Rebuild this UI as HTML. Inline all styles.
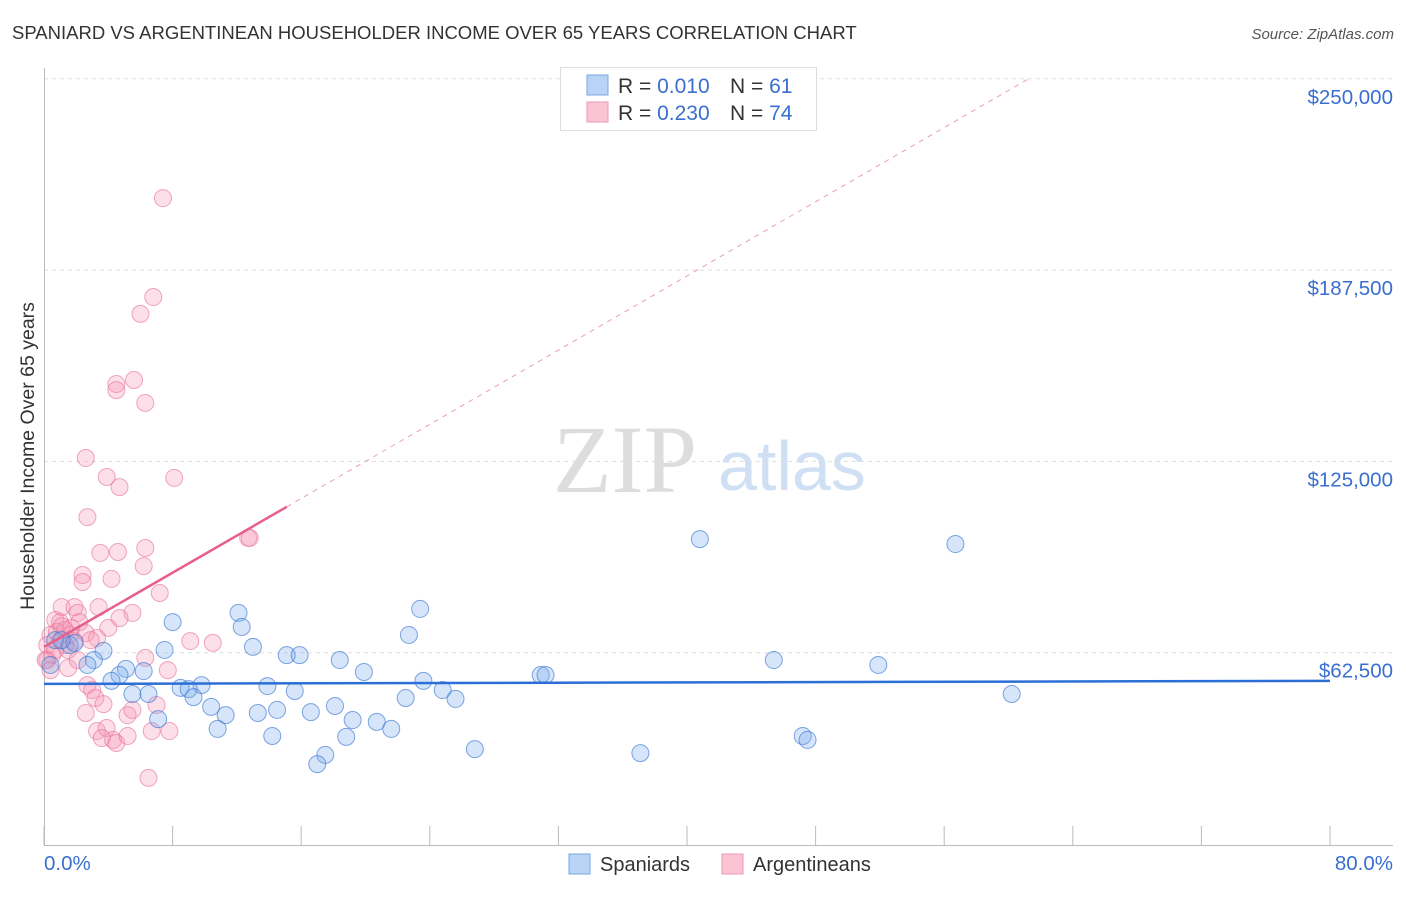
<!DOCTYPE html>
<html><head><meta charset="utf-8"><style>
body{margin:0;background:#fff;font-family:"Liberation Sans",sans-serif;}
svg text{font-family:"Liberation Sans",sans-serif;}
</style></head><body>
<svg width="1406" height="892" xmlns="http://www.w3.org/2000/svg">
<text x="12" y="39" font-size="18.5" fill="#333">SPANIARD VS ARGENTINEAN HOUSEHOLDER INCOME OVER 65 YEARS CORRELATION CHART</text>
<text x="1394" y="39" font-size="15" fill="#555" font-style="italic" text-anchor="end">Source: ZipAtlas.com</text>
<g>
<text x="553" y="492" font-size="96" fill="#ddd" font-family="Liberation Serif, serif" style="font-family:'Liberation Serif',serif">ZIP</text>
<text x="718" y="490" font-size="70" fill="#cfe0f5">atlas</text>
</g>
<g id="grid"></g>
<g id="axes"></g>
<g id="marks"></g>
<g>
<rect x="560.5" y="67.5" width="256" height="63" fill="#fff" stroke="#ddd"/>
<rect x="587" y="75" width="21" height="20" fill="#b8d3f5" stroke="#7aa6e0"/>
<rect x="587" y="102" width="21" height="20" fill="#fac4d4" stroke="#ee9ab4"/>
<text x="618" y="93" font-size="21" fill="#333">R = <tspan fill="#3a6fd0">0.010</tspan></text>
<text x="730" y="93" font-size="21" fill="#333">N = <tspan fill="#3a6fd0"> 61</tspan></text>
<text x="618" y="120" font-size="21" fill="#333">R = <tspan fill="#3a6fd0">0.230</tspan></text>
<text x="730" y="120" font-size="21" fill="#333">N = <tspan fill="#3a6fd0">74</tspan></text>
</g>
<g>
<rect x="569" y="854" width="21" height="20" fill="#b8d3f5" stroke="#7aa6e0"/>
<text x="600" y="871" font-size="20" fill="#333">Spaniards</text>
<rect x="722" y="854" width="21" height="20" fill="#fac4d4" stroke="#ee9ab4"/>
<text x="753" y="871" font-size="20" fill="#333">Argentineans</text>
</g>
<text transform="translate(34,456) rotate(-90)" font-size="19.5" fill="#333" text-anchor="middle">Householder Income Over 65 years</text>
</svg>
<script>
const yTicks=[62500,125000,187500,250000];
const yTickLabels=["$62,500","$125,000","$187,500","$250,000"];
const xTicks=[0,8,16,24,32,40,48,56,64,72,80];
const blueX=[40.8,56.7,23.4,12.1,8.0,12.3,22.7,13.0,15.1,15.9,18.4,19.9,45.4,51.9,30.9,31.2,7.5,3.7,3.1,2.7,5.1,6.2,4.7,4.2,9.8,8.5,9.0,13.9,15.6,23.6,24.8,25.6,22.5,6.5,5.5,9.3,10.4,11.3,18.1,14.5,13.3,16.6,19.2,20.7,21.6,7.1,10.8,14.2,18.8,26.8,37.1,47.2,47.5,17.5,17.0,60.2,0.4,0.7,1.6,1.9,1.1];
const blueY=[99.6,98.0,76.8,75.5,72.5,70.9,68.3,64.4,61.7,61.7,60.1,56.2,60.1,58.5,55.2,55.2,63.4,63.1,60.1,58.5,57.2,56.5,55.2,53.3,51.9,51.0,50.6,51.6,50.0,53.3,50.3,47.4,47.7,49.0,49.0,48.0,44.8,42.1,45.1,43.8,42.8,43.1,40.5,39.9,37.6,40.8,37.6,35.3,35.0,31.0,29.7,35.3,34.0,29.1,26.1,49.0,58.5,66.6,65.0,65.7,66.6];
const pinkX=[7.4,6.8,6.0,5.6,4.5,4.5,6.3,2.6,3.9,8.1,4.7,2.7,12.7,12.8,3.5,4.6,6.3,6.2,2.4,2.4,4.2,7.2,1.1,1.9,3.4,2.1,5.5,4.7,4.0,0.7,1.0,1.3,1.6,2.6,3.3,9.1,10.5,1.9,0.4,0.2,0.5,0.2,1.5,6.3,7.7,2.7,3.0,3.2,3.7,2.6,5.2,5.5,7.0,3.3,3.9,3.6,4.3,4.5,5.2,6.7,7.8,6.5,1.0,1.3,0.8,1.7,2.2,2.9,0.7,1.5,0.1,0.4,2.1,1.1];
const pinkY=[211.0,178.7,173.2,151.6,150.3,148.3,144.1,126.1,119.9,119.6,116.6,106.8,100.0,100.0,95.1,95.4,96.7,90.8,87.9,85.6,86.6,82.0,77.4,77.4,77.4,75.5,75.5,73.8,70.6,73.2,72.5,69.9,68.3,68.9,67.3,66.3,65.7,66.3,68.3,65.0,61.7,60.1,57.5,60.8,56.8,51.9,50.3,47.7,45.7,42.8,42.1,43.8,45.4,36.9,37.9,34.6,34.0,33.0,35.3,36.9,36.9,21.6,66.6,65.0,69.3,70.6,72.5,66.6,63.4,63.4,60.1,56.8,60.1,71.2];
const blueTrend=[52.3,53.3];      // k$ at 0% and 80%
const pinkTrend=[64.4,3.03,15.1]; // intercept k$, slope k$/%, solid end %
const X0=44,X1=1330,Y0=844,YK=191.3/62.5;
const sx=v=>X0+(X1-X0)*v/80;
const sy=k=>Y0-k*YK;
const NS="http://www.w3.org/2000/svg";
function mk(p,t,a){const e=document.createElementNS(NS,t);for(const k in a)e.setAttribute(k,a[k]);p.appendChild(e);return e;}
const grid=document.getElementById('grid'),axes=document.getElementById('axes'),marks=document.getElementById('marks');
yTicks.forEach((v,i)=>{
 const l=mk(grid,'line',{x1:44,x2:1393,y1:sy(v/1000),y2:sy(v/1000),stroke:'#ddd','stroke-dasharray':'4,4'});
 
 
 const t=mk(axes,'text',{x:1393,y:sy(v/1000)+25,'font-size':20.5,fill:'#3a6fd0','text-anchor':'end'});
 t.textContent=yTickLabels[i];
 
 
});
const ya=mk(axes,'line',{x1:44.5,x2:44.5,y1:68,y2:845,stroke:'#bbb'});


const xa=mk(axes,'line',{x1:44,x2:1393,y1:845.5,y2:845.5,stroke:'#bbb'});


xTicks.forEach(v=>{
 const t=mk(axes,'line',{x1:sx(v),x2:sx(v),y1:826,y2:845,stroke:'#bbb'});
 
 
});
const xl0=mk(axes,'text',{x:44,y:870,'font-size':20.5,fill:'#3a6fd0'});xl0.textContent='0.0%';


const xl1=mk(axes,'text',{x:1393,y:870,'font-size':20.5,fill:'#3a6fd0','text-anchor':'end'});xl1.textContent='80.0%';


pinkX.forEach((x,i)=>{
 const c=mk(marks,'circle',{cx:sx(x),cy:sy(pinkY[i]),r:8.5,fill:'rgba(244,150,180,0.3)',stroke:'rgba(232,110,150,0.6)','stroke-width':1});
 
 
});
blueX.forEach((x,i)=>{
 const c=mk(marks,'circle',{cx:sx(x),cy:sy(blueY[i]),r:8.5,fill:'rgba(120,170,235,0.3)',stroke:'rgba(60,120,210,0.65)','stroke-width':1});
 
 
});
const bl=mk(marks,'line',{x1:sx(0),y1:sy(blueTrend[0]),x2:sx(80),y2:sy(blueTrend[1]),stroke:'#2b6fd6','stroke-width':2.5});


const pe=pinkTrend[2],xEnd=(250-pinkTrend[0])/pinkTrend[1];
const pd=mk(marks,'line',{x1:sx(pe),y1:sy(pinkTrend[0]+pinkTrend[1]*pe),x2:sx(xEnd),y2:sy(250),stroke:'#e8a0b6','stroke-width':1,'stroke-dasharray':'5,5'});


const pl=mk(marks,'line',{x1:sx(0),y1:sy(pinkTrend[0]),x2:sx(pe),y2:sy(pinkTrend[0]+pinkTrend[1]*pe),stroke:'#e8608a','stroke-width':2.5});


</script>
</body></html>
